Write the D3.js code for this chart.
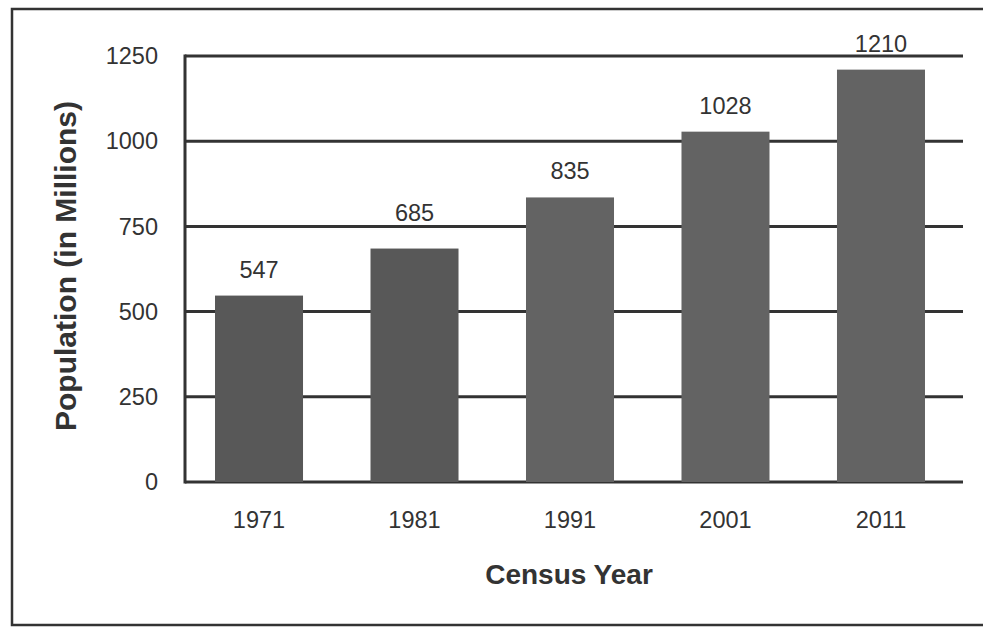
<!DOCTYPE html>
<html>
<head>
<meta charset="utf-8">
<script src="https://cdn.jsdelivr.net/npm/d3@7"></script>
<style>
  body { margin: 0; background: #fff; }
  text { font-family: "Liberation Sans", Arial, sans-serif; fill: #333; }
</style>
</head>
<body>
<div id="chart"></div>
<script>
// census data
const years = ["1971", "1981", "1991", "2001", "2011"];
const population = [547, 685, 835, 1028, 1210];
const yTicks = [0, 250, 500, 750, 1000, 1250];

const svg = d3.select("#chart")
    .append("svg")
    .attr("width", 983)
    .attr("height", 630);

// outer frame (right edge runs off the page)
svg.append("rect")
    .attr("x", 12).attr("y", 9)
    .attr("width", 990).attr("height", 616)
    .attr("fill", "none")
    .attr("stroke", "#333")
    .attr("stroke-width", 2.5);

const plotLeft = 185, plotRight = 963, plotTop = 56, plotBottom = 482;

const xScale = d3.scaleBand()
    .domain(years)
    .range([plotLeft, 955])
    .paddingInner(0.434)
    .paddingOuter(0.193);

const yScale = d3.scaleLinear()
    .domain([0, 1250])
    .range([plotBottom, plotTop]);

// gridlines
svg.append("g")
    .selectAll("line")
    .data(yTicks)
    .enter().append("line")
    .attr("x1", plotLeft).attr("x2", plotRight)
    .attr("y1", d => yScale(d)).attr("y2", d => yScale(d))
    .attr("stroke", "#333")
    .attr("stroke-width", 3);

// y axis line
svg.append("line")
    .attr("x1", plotLeft).attr("x2", plotLeft)
    .attr("y1", yScale(1250) - 1.5).attr("y2", yScale(0) + 1.5)
    .attr("stroke", "#333")
    .attr("stroke-width", 3);

// y tick labels
svg.append("g")
    .selectAll("text")
    .data(yTicks)
    .enter().append("text")
    .attr("x", 158)
    .attr("y", d => yScale(d))
    .attr("dy", "0.35em")
    .attr("text-anchor", "end")
    .attr("font-size", 23.5)
    .text(d => d);

// bars
svg.append("g")
    .selectAll("rect")
    .data(population)
    .enter().append("rect")
    .attr("x", (d, i) => xScale(years[i]))
    .attr("y", d => yScale(d))
    .attr("width", xScale.bandwidth())
    .attr("height", d => yScale(0) - yScale(d))
    .attr("fill", (d, i) => i < 2 ? "#585858" : "#636363");

// value labels: sit above the bar, lifted onto a gridline if they would cross one
function labelBaseline(v) {
    let base = yScale(v) - 18;
    yTicks.forEach(t => {
        const g = yScale(t);
        if (g > base - 20 && g < base + 4) base = g - 5;
    });
    return base;
}

svg.append("g")
    .selectAll("text")
    .data(population)
    .enter().append("text")
    .attr("x", (d, i) => xScale(years[i]) + xScale.bandwidth() / 2)
    .attr("y", d => labelBaseline(d))
    .attr("text-anchor", "middle")
    .attr("font-size", 23.5)
    .text(d => d);

// x tick labels
svg.append("g")
    .selectAll("text")
    .data(years)
    .enter().append("text")
    .attr("x", d => xScale(d) + xScale.bandwidth() / 2)
    .attr("y", 520)
    .attr("dy", "0.35em")
    .attr("text-anchor", "middle")
    .attr("font-size", 23.5)
    .text(d => d);

// axis titles
svg.append("text")
    .attr("x", 569).attr("y", 574)
    .attr("dy", "0.35em")
    .attr("text-anchor", "middle")
    .attr("font-size", 28)
    .attr("font-weight", "bold")
    .text("Census Year");

svg.append("text")
    .attr("transform", "translate(65, 266) rotate(-90)")
    .attr("dy", "0.35em")
    .attr("text-anchor", "middle")
    .attr("font-size", 30)
    .attr("font-weight", "bold")
    .text("Population (in Millions)");
</script>
</body>
</html>
